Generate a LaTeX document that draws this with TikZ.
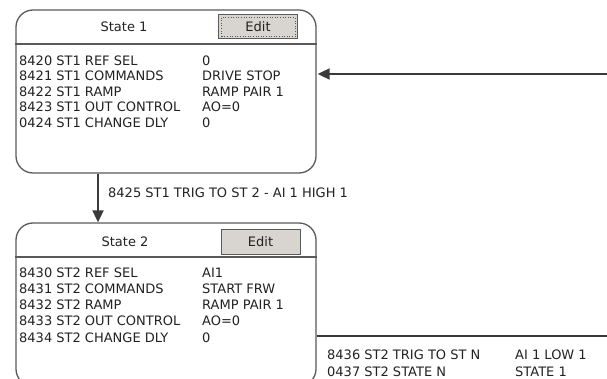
\documentclass[tikz,border=0pt]{standalone}
\usepackage{fontspec}
\setmainfont{DejaVu Sans}
\usetikzlibrary{arrows.meta,calc}
\definecolor{txt}{HTML}{222222}
\definecolor{bord}{HTML}{5A5A5A}
\definecolor{btn}{HTML}{D8D4D0}
\definecolor{linec}{HTML}{3A3A3A}
\begin{document}
\begin{tikzpicture}[x=1pt,y=-1pt,
  every node/.style={font=\fontsize{13}{15}\selectfont, text=txt, inner sep=0pt},
  statebox/.style={draw=bord, line width=1.3pt, rounded corners=17pt, minimum width=300pt, minimum height=163pt},
  editbtn/.style={draw=bord, line width=1pt, fill=btn, minimum width=79pt, minimum height=24pt},
  sep/.style={draw=bord, line width=1.3pt},
  row/.style={anchor=west},
  conn/.style={draw=linec, line width=1.8pt},
  tip/.style={-{Triangle[length=12pt,width=11pt]}}
]
\useasboundingbox (0,0) rectangle (607,379);
\clip (0,0) rectangle (607,379);
\fill[white] (0,0) rectangle (607,379);

% State 1
\node[statebox] (s1) at (166,91.5) {};
\coordinate (hl1) at (0,44);
\draw[sep] (s1.west |- hl1) -- (s1.east |- hl1);
\node (t1) at (124,27) {State 1};
\node[editbtn] (e1) at (258,27) {Edit};
\draw[bord, dotted, line width=0.6pt] ($(e1.south west)+(3,-3)$) rectangle ($(e1.north east)+(-3,3)$);
\node[row] (r11) at (19,60.5) {8420 ST1 REF SEL};
\node[row] (r12) at (19,76) {8421 ST1 COMMANDS};
\node[row] (r13) at (19,91.5) {8422 ST1 RAMP};
\node[row] (r14) at (19,107) {8423 ST1 OUT CONTROL};
\node[row] (r15) at (19,122.5) {0424 ST1 CHANGE DLY};
\node[row] (v11) at (202,60.5) {0};
\node[row] (v12) at (202,76) {DRIVE STOP};
\node[row] (v13) at (202,91.5) {RAMP PAIR 1};
\node[row] (v14) at (202,107) {AO=0};
\node[row] (v15) at (202,122.5) {0};

% State 2
\node[statebox] (s2) at (166,304.5) {};
\coordinate (hl2) at (0,257);
\draw[sep] (s2.west |- hl2) -- (s2.east |- hl2);
\node (t2) at (125,242) {State 2};
\node[editbtn] (e2) at (260.5,242) {Edit};
\node[row] (r21) at (19,273) {8430 ST2 REF SEL};
\node[row] (r22) at (19,289) {8431 ST2 COMMANDS};
\node[row] (r23) at (19,305) {8432 ST2 RAMP};
\node[row] (r24) at (19,321) {8433 ST2 OUT CONTROL};
\node[row] (r25) at (19,337.5) {8434 ST2 CHANGE DLY};
\node[row] (v21) at (202,273) {AI1};
\node[row] (v22) at (202,289) {START FRW};
\node[row] (v23) at (202,305) {RAMP PAIR 1};
\node[row] (v24) at (202,321) {AO=0};
\node[row] (v25) at (202,337.5) {0};

% State 1 -> State 2
\coordinate (vx) at (98,0);
\draw[conn,tip] (s1.south -| vx) -- (s2.north -| vx);
\node[row] (l12) at (108,193) {8425 ST1 TRIG TO ST 2 - AI 1 HIGH 1};

% State 2 -> State 1
\coordinate (rx) at (607.4,0);
\coordinate (h2) at (0,336);
\coordinate (h1) at (0,74);
\draw[conn,tip,shorten >=1pt] (s2.east |- h2) -- (rx |- h2) -- (rx |- h1) -- (s1.east |- h1);
\node[row] (l21a) at (327,355) {8436 ST2 TRIG TO ST N};
\node[row] (l21b) at (515,355) {AI 1 LOW 1};
\node[row] (l21c) at (327,372) {0437 ST2 STATE N};
\node[row] (l21d) at (515,372) {STATE 1};
\end{tikzpicture}
\end{document}
